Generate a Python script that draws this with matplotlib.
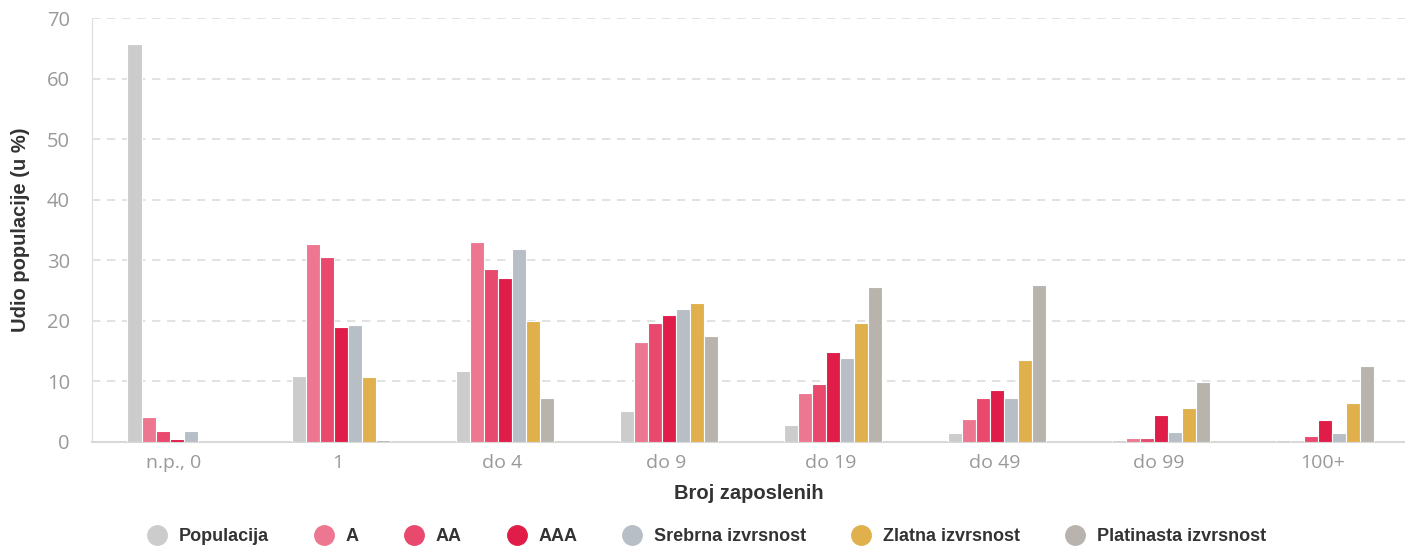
import matplotlib.pyplot as plt
from matplotlib.lines import Line2D
import numpy as np

plt.rcParams['font.family'] = ['Open Sans', 'DejaVu Sans']

categories = ["n.p., 0", "1", "do 4", "do 9", "do 19", "do 49", "do 99", "100+"]
series = ["Populacija", "A", "AA", "AAA", "Srebrna izvrsnost", "Zlatna izvrsnost", "Platinasta izvrsnost"]
colors = ["#cccccc", "#ed7790", "#e8496d", "#e01c48", "#b8bec6", "#e0b04c", "#b8b3ad"]

populacija = [65.8, 10.9, 11.7, 5.1, 2.8, 1.4, 0.4, 0.4]
a = [4.1, 32.7, 33.0, 16.5, 8.1, 3.8, 0.6, 0.0]
aa = [1.8, 30.5, 28.5, 19.6, 9.6, 7.2, 0.6, 1.0]
aaa = [0.5, 19.0, 27.0, 21.0, 14.9, 8.5, 4.4, 3.6]
srebrna = [1.8, 19.3, 31.8, 22.0, 13.9, 7.2, 1.7, 1.4]
zlatna = [0.0, 10.7, 20.0, 23.0, 19.6, 13.5, 5.6, 6.4]
platinasta = [0.0, 0.4, 7.2, 17.5, 25.6, 25.9, 9.9, 12.5]
values = [populacija, a, aa, aaa, srebrna, zlatna, platinasta]

fig = plt.figure(figsize=(14.05, 5.49), dpi=100)
ax = fig.add_axes([0.0655, 0.195, 0.9345, 0.772])

x = np.arange(len(categories))
w = 0.0854
for i, (name, vals) in enumerate(zip(series, values)):
    ax.bar(x + (i - 3) * w + 0.015, vals, width=w, color=colors[i], edgecolor="white",
           linewidth=0.8, label=name, zorder=3)

ax.set_xlim(-0.5, 7.5)
ax.set_ylim(0, 70)
ax.set_yticks(range(0, 71, 10))
ax.set_xticks(x)
ax.set_xticklabels(categories)
ax.yaxis.grid(True, linestyle=(0, (5, 4)), color="#dddddd", linewidth=1.2, zorder=0)
ax.tick_params(axis="both", length=0, colors="#999999")
ax.tick_params(axis="y", labelsize=14.5, pad=16)
ax.tick_params(axis="x", labelsize=14, pad=9)
for s in ["top", "right"]:
    ax.spines[s].set_visible(False)
ax.spines["left"].set_color("#dddddd")
ax.spines["bottom"].set_color("#d8d8d8")
ax.spines["bottom"].set_linewidth(1.5)

lab_font = {"family": ["Liberation Sans", "DejaVu Sans"], "size": 14.5, "weight": "bold"}
ax.set_xlabel("Broj zaposlenih", fontdict=lab_font, color="#333333", labelpad=8)
ax.set_ylabel("Udio populacije (u %)", fontdict=lab_font, color="#333333", labelpad=12)

handles = [Line2D([0], [0], marker="o", linestyle="", markersize=14, markerfacecolor=c,
                  markeredgecolor=c) for c in colors]
leg = fig.legend(handles, series, loc="lower center", ncol=7, frameon=False,
                 bbox_to_anchor=(0.5, -0.022), handletextpad=0.2, columnspacing=2.05,
                 prop={"family": ["Liberation Sans", "DejaVu Sans"], "size": 13, "weight": "bold"})
for t in leg.get_texts():
    t.set_color("#333333")

fig.savefig("out.png")
